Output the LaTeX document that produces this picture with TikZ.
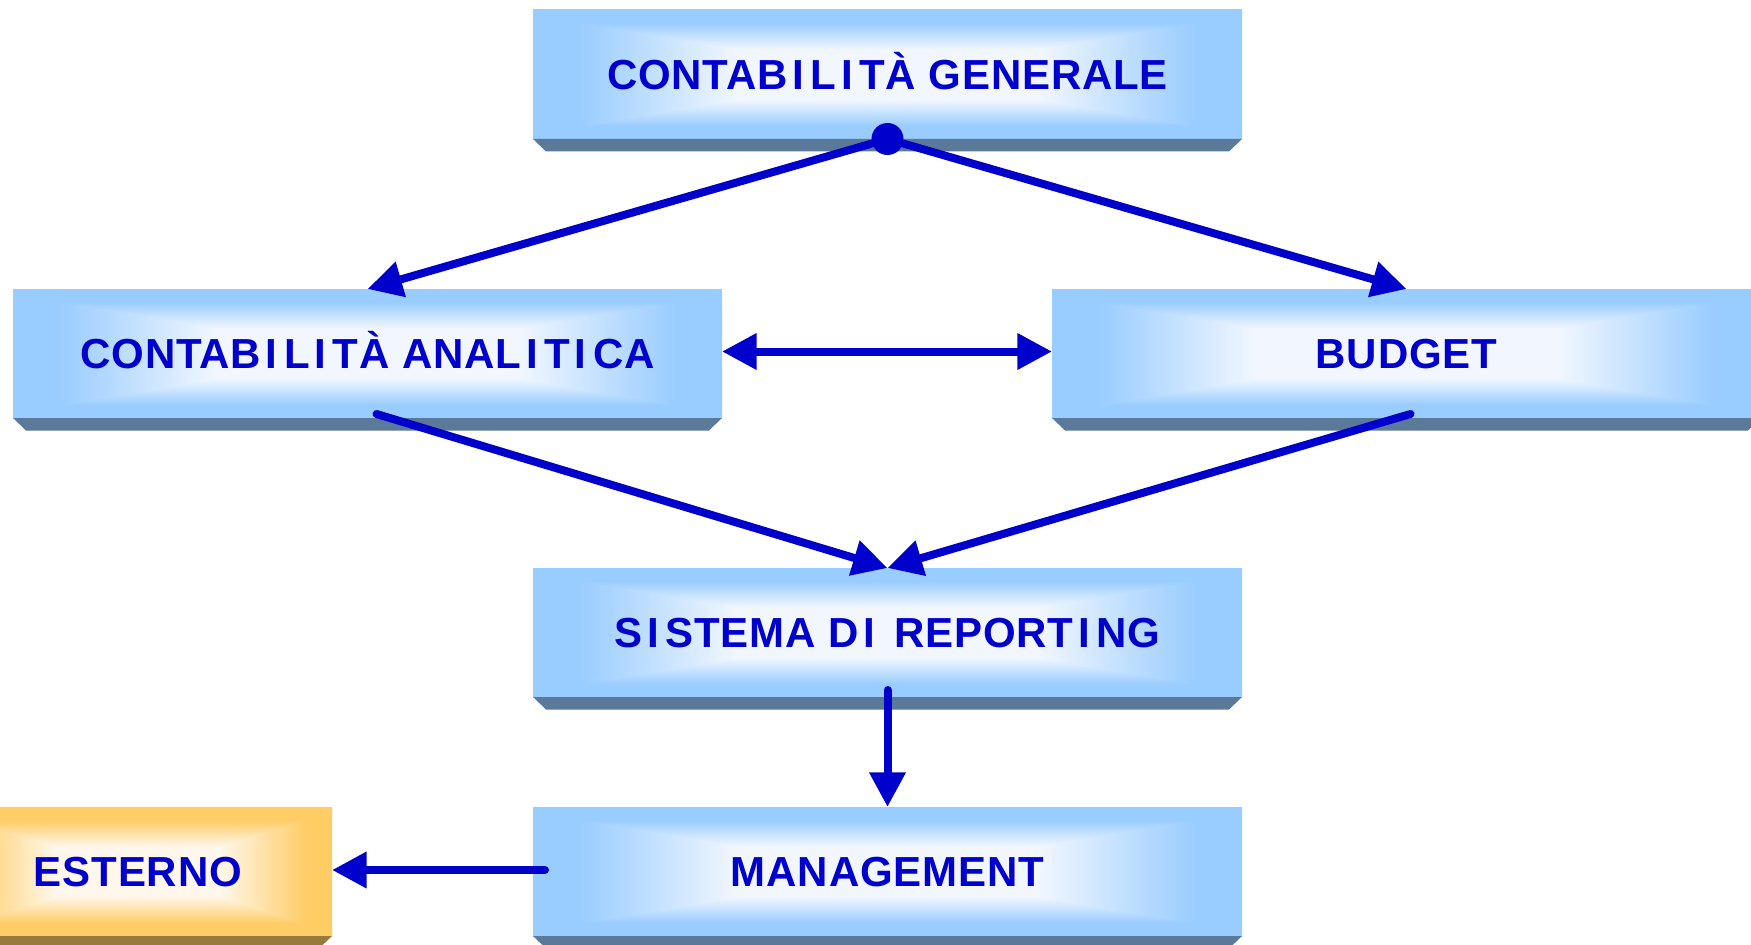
\documentclass[tikz,border=0pt]{standalone}
\usepackage{fontspec}
\setmainfont{Liberation Sans}[LetterSpace=2.0]
\usetikzlibrary{arrows.meta,calc}

\definecolor{ink}{HTML}{0000CC}
\definecolor{slab}{HTML}{5B7A99}
\definecolor{slabgold}{HTML}{977A3E}

% rectangular "from centre" glow: pale core fading to the edge colour
\pgfdeclarefunctionalshading{skyglow}{\pgfpoint{-50bp}{-50bp}}{\pgfpoint{50bp}{50bp}}{}{
  abs 25 div 0.38 sub 0.42 div exch abs 25 div 0.42 sub 0.45 div
  2 copy lt {exch} if pop
  dup 0 lt {pop 0} if dup 1 gt {pop 1} if
  dup 0.35 mul 0.95 exch sub exch 0.17 mul 0.97 exch sub 1
}
\pgfdeclarefunctionalshading{goldglow}{\pgfpoint{-50bp}{-50bp}}{\pgfpoint{50bp}{50bp}}{}{
  abs 25 div 0.38 sub 0.42 div exch abs 25 div 0.42 sub 0.45 div
  2 copy lt {exch} if pop
  dup 0 lt {pop 0} if dup 1 gt {pop 1} if
  1 exch dup 0.17 mul 0.97 exch sub exch 0.52 mul 0.92 exch sub
}

% wide-set capital I as printed in the labels
\newcommand\wI{\kern3.5pt I\kern5pt}

\tikzset{
  panel/.style={minimum width=531.75pt, minimum height=96.75pt,
    inner sep=0pt, outer sep=0pt, shading=skyglow, text=ink,
    text height=22.5pt, text depth=0pt,
    font=\fontsize{31.5pt}{36pt}\selectfont\bfseries},
  goldpanel/.style={panel, minimum width=291pt, shading=goldglow},
  hubdot/.style={circle, fill=ink, minimum size=24pt, inner sep=0pt},
  tip/.tip={Triangle[length=26pt, width=26pt]},
  link/.style={draw=ink, line width=6pt, line cap=round, -tip},
}

\newcommand\slabunder[2]{%
  \fill[#2] (#1.south west) -- (#1.south east) -- ++(-13,12.5)
    -- ($(#1.south west)+(13,12.5)$) -- cycle;}

\begin{document}
\begin{tikzpicture}[x=0.75pt, y=-0.75pt]
  \useasboundingbox (0,0) rectangle (1751,945);
  \clip (0,0) rectangle (1751,945);

  % panels
  \node[panel] (b1) at (887.5,74.5) {CONTAB\wI L\wI T\`A GENERALE};
  \node[panel] (b2) at (367.5,353.5) {CONTAB\wI L\wI T\`A ANAL\wI T\wI CA};
  \node[panel] (b3) at (1406.5,353.5) {BUDGET};
  \node[panel] (b4) at (887.5,632.5) {S\wI STEMA D\wI{} REPORT\wI NG};
  \node[panel] (b5) at (887.5,871.5) {MANAGEMENT};
  \node[goldpanel] (b6) at (138,871.5) {ESTERNO};

  % bevelled undersides
  \slabunder{b1}{slab}
  \slabunder{b2}{slab}
  \slabunder{b3}{slab}
  \slabunder{b4}{slab}
  \slabunder{b5}{slab}
  \slabunder{b6}{slabgold}

  % connectors
  \node[hubdot] (hub) at (b1.south) {};
  \draw[link] (hub) -- (b2.north);
  \draw[link] (hub) -- (b3.north);

  \coordinate (e2) at ($(b2.east)+(0,-2)$);
  \coordinate (w3) at ($(b3.west)+(0,-2)$);
  \draw[link, tip-tip] (e2) -- (w3);

  \coordinate (s2) at ($(b2.south)+(9,-4)$);
  \coordinate (s3) at ($(b3.south)+(4,-4)$);
  \draw[link] (s2) -- (b4.north);
  \draw[link] (s3) -- (b4.north);

  \coordinate (s4) at ($(b4.south)+(0,-7)$);
  \draw[link] (s4) -- (b5.north);

  \coordinate (s5) at ($(b5.west)+(12,-1.5)$);
  \coordinate (e6) at ($(b6.east)+(0,-1.5)$);
  \draw[link] (s5) -- (e6);
\end{tikzpicture}
\end{document}
